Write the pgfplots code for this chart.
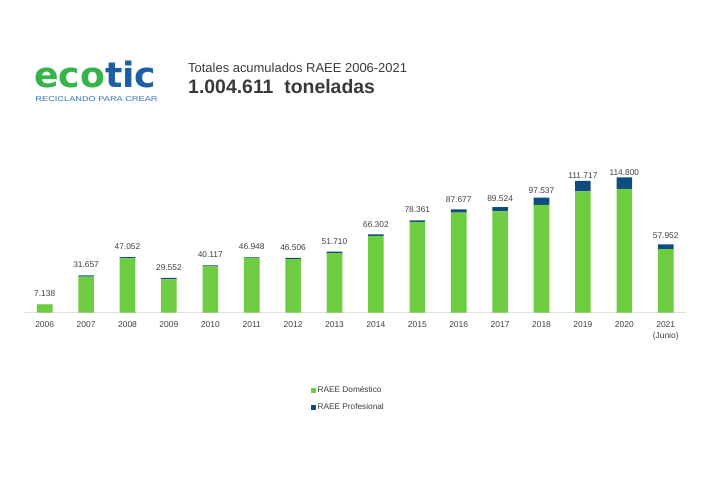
\documentclass[border=0pt]{standalone}
\usepackage{pgfplots}
\usepackage{pgfplotstable}
\pgfplotsset{compat=1.18}
\usepackage{fontspec}
\setmainfont{Liberation Sans}
\newfontfamily\logofont{DejaVu Sans}
\definecolor{dom}{HTML}{6DCC40}
\definecolor{prof}{HTML}{0E4B7E}
\definecolor{logog}{HTML}{36B34A}
\definecolor{logob}{HTML}{1E5FA3}
\definecolor{tagb}{HTML}{2D74B5}
\definecolor{txt}{HTML}{3A3A3A}
\definecolor{lbl}{HTML}{3F3F3F}

\pgfplotstableread{
x dom prof label
0 7.038 0.1 7.138
1 30.557 1.1 31.657
2 45.952 1.1 47.052
3 28.252 1.3 29.552
4 39.517 0.6 40.117
5 46.348 0.6 46.948
6 45.406 1.1 46.506
7 50.410 1.3 51.710
8 65.102 1.2 66.302
9 76.961 1.4 78.361
10 84.877 2.8 87.677
11 85.824 3.7 89.524
12 91.337 6.2 97.537
13 102.917 8.8 111.717
14 104.900 9.9 114.800
15 53.952 4.0 57.952
}\datatable

\begin{document}
\begin{tikzpicture}[x=1bp,y=1bp]
\path[fill=white] (0,0) rectangle (712,480);
% logo
\node[anchor=base west, inner sep=0, xscale=1.04, font=\logofont\bfseries\fontsize{35}{35}\selectfont] at (34,392.7) {\textcolor{logog}{eco}\textcolor{logob}{tic}};
\node[anchor=base west, inner sep=0, text=tagb, font=\fontsize{7}{7}\selectfont] at (35.3,378.3) {\scalebox{1.32}[1]{RECICLANDO PARA CREAR}};
% titles
\node[anchor=base west, inner sep=0, text=txt, font=\fontsize{13}{14}\selectfont] at (188,407.7) {Totales acumulados RAEE 2006-2021};
\node[anchor=base west, inner sep=0, text=txt, font=\bfseries\fontsize{19.5}{20}\selectfont] at (188,386) {1.004.611\ \ toneladas};
\begin{axis}[
  at={(44.7bp,167.3bp)}, anchor=origin,
  scale only axis, width=662.4bp, height=140bp,
  xmin=-0.5, xmax=15.5, ymin=0, ymax=118.7,
  ybar stacked, bar width=15.6bp,
  axis x line=bottom, axis y line=none,
  x axis line style={draw=black!12, line width=0.8bp, -},
  xtick={0,...,15},
  xticklabels={2006,2007,2008,2009,2010,2011,2012,2013,2014,2015,2016,2017,2018,2019,2020,{\vtop{\hbox{\makebox[0pt]{2021}}\hbox{\makebox[0pt]{(Junio)}}}}},
  major tick length=0pt,
  xticklabel style={anchor=base, yshift=-15bp, text=lbl, font=\fontsize{8.5}{10.5}\selectfont},
  ytick=\empty,
  clip=false,
  legend style={draw=none, fill=none, at={(0.433,-0.52)}, anchor=north west,
    font=\fontsize{8.3}{10}\selectfont, text=lbl, row sep=7bp, inner sep=0pt,
    nodes={inner sep=1.2bp}},
  legend cell align=left,
  legend image code/.code={\fill[#1] (0bp,-2.7bp) rectangle (5.4bp,2.7bp);},
]
\addplot[fill=dom, draw=none] table[x=x, y=dom] {\datatable};
\addlegendentry{RAEE Doméstico}
\addplot[fill=prof, draw=none,
  nodes near coords, point meta=explicit symbolic,
  every node near coord/.append style={anchor=south, yshift=4.5bp, text=lbl, font=\fontsize{8.4}{10}\selectfont}]
  table[x=x, y=prof, meta=label] {\datatable};
\addlegendentry{RAEE Profesional}
\end{axis}
\end{tikzpicture}
\end{document}
